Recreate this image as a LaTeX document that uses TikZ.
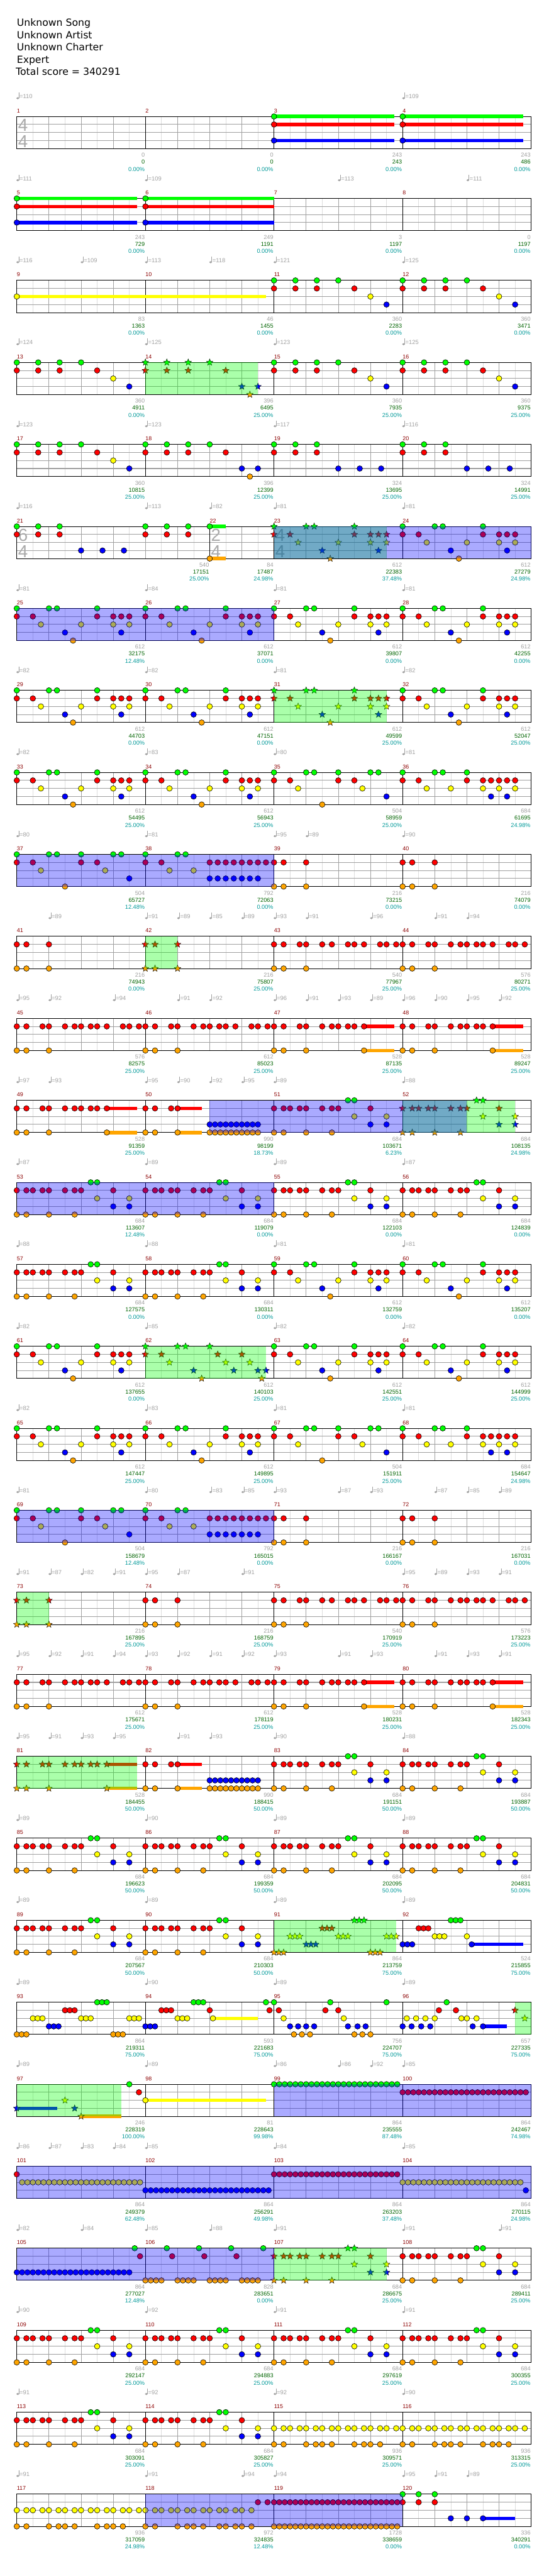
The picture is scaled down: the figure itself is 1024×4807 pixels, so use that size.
\documentclass[tikz,border=0pt]{standalone}
\usepackage{fontspec}
\setmainfont{Liberation Sans}
\newfontfamily\headfont{DejaVu Sans}
\usetikzlibrary{shapes.geometric}

\definecolor{ln0}{RGB}{0,255,0}
\definecolor{ln1}{RGB}{255,0,0}
\definecolor{ln2}{RGB}{255,255,0}
\definecolor{ln3}{RGB}{0,0,255}
\definecolor{ln4}{RGB}{255,165,0}
\definecolor{gridlight}{RGB}{221,221,221}
\definecolor{gridmid}{RGB}{160,160,160}
\definecolor{mnumred}{RGB}{140,0,0}
\definecolor{basegray}{RGB}{160,160,160}
\definecolor{scoregreen}{RGB}{0,100,0}
\definecolor{pctteal}{RGB}{0,153,153}
\definecolor{sigray}{RGB}{170,170,170}

% top-left corner of a measure
\newcommand{\mpos}[1]{%
  \pgfmathtruncatemacro{\mrow}{(#1-1)/4}%
  \pgfmathsetmacro{\my}{217.3+153*\mrow}%
  \pgfmathsetmacro{\mx}{31.3+240*(#1-1-4*\mrow)}%
  \ifnum#1=22 \def\mx{391.3}\fi}
\newcommand{\inm}[2]{\mpos{#1}\begin{scope}[shift={(\mx,\my)}]#2\end{scope}}

% notes: lane, list of beats
\newcommand{\nts}[2]{\foreach \bt in {#2}{\filldraw[note,fill=ln#1] ({60*\bt},{15*#1}) circle[radius=5.2pt];}}
\newcommand{\sts}[2]{\foreach \bt in {#2}{\node[starnote,fill=ln#1] at ({60*\bt},{15*#1}) {};}}
\newcommand{\sus}[3]{\draw[sustain,ln#1] ({60*#2},{15*#1}) -- ({60*#3},{15*#1});}
\newcommand{\run}[3]{\foreach \kk in {#2,...,#3}{\filldraw[note,fill=ln#1] ({10*\kk},{15*#1}) circle[radius=5.2pt];}}
\newcommand{\nx}{\nts}

\newcommand{\zone}[5]{\mpos{#2}\pgfmathsetmacro{\xa}{\mx+60*#3}\let\ya\my
  \mpos{#4}\pgfmathsetmacro{\xb}{\mx+60*#5}\fill[#1] (\xa,\ya) rectangle (\xb,{\ya+60});}

% note patterns
\newcommand{\patLong}[1]{\sus{0}{0}{#1}\sus{1}{0}{#1}\sus{3}{0}{#1}\nx{0}{0}\nx{1}{0}\nx{3}{0}}
\newcommand{\patA}{\nx{0}{0,0.667,1.333,2}\nx{1}{0,0.667,1.333,2.5}\nx{2}{3}\nx{3}{3.5}}
\newcommand{\patAA}{\nx{0}{0,0.667,1.333,2}\nx{1}{0,0.667,1.333,2.5}\nx{3}{3,3.5}\nx{4}{3.25}}
\newcommand{\patC}{\nx{0}{0,0.667,1.333}\nx{1}{0,0.667,1.333}\nx{3}{2,2.667,3.333}}
\newcommand{\patD}{\nx{0}{0,1,1.25,2.5}\nx{1}{0,0.5,2.5,3,3.25,3.5}\nx{2}{0.75,2,3,3.5}\nx{3}{1.5,3.25}\nx{4}{1.75}}
\newcommand{\patE}{\nx{0}{0,1,1.25,2,3,3.25}\nx{1}{0,0.5,2,2.5}\nx{2}{0.75,2.75}\nx{3}{3.5}\nx{4}{1.5}}
\newcommand{\patF}{\nx{0}{0,1,1.25,2}\nx{1}{0,0.5,2,2.5,2.75,3,3.25,3.5}\nx{2}{0.75,1.5,2.5,3,3.5}\nx{3}{2.75,3.25}}
\newcommand{\patH}{\nx{0}{0,1,1.25}\nx{1}{0,0.5,2,2.25,2.5,2.75,3,3.25,3.5,3.75}\nx{2}{0.75,1.5}\nx{3}{2,2.25,2.5,2.75,3,3.25,3.5}}
\newcommand{\patI}{\nx{1}{0,0.3,1}\nx{4}{0,0.3,1}}
\newcommand{\patRa}{\nx{1}{0,0.3,0.8,1,1.5,1.8,2.3,2.5,2.8,3.3,3.5,3.8}\nx{4}{0,0.3,1}}
\newcommand{\patRb}{\nx{1}{0,0.3,0.8,1,1.5,1.8,2,2.3,2.5,2.8,3.3,3.5,3.8}\nx{4}{0,0.3,1}}
\newcommand{\patRs}{\sus{1}{2.8}{3.75}\sus{4}{2.8}{3.75}\nx{1}{0,0.3,0.8,1,1.5,1.8,2,2.3,2.5,2.8}\nx{4}{0,0.3,1,2.8}}
\newcommand{\patJ}{\sus{1}{1}{1.75}\sus{4}{1}{1.75}\nx{1}{0,0.3,0.8,1}\nx{4}{0,0.3,1}\run{3}{12}{21}\run{4}{12}{21}}
\newcommand{\patG}{\nx{0}{2.3,2.5}\nx{1}{0,0.3,0.5,0.8,1,1.5,1.8,2,3}\nx{2}{2.5,3.5}\nx{3}{3,3.5}\nx{4}{0,0.3,1,1.8}}
\newcommand{\patK}{\nx{4}{0,0.15,0.3,3,3.15,3.3}\nx{2}{0.5,0.65,0.8,2,2.15,2.3,3.5,3.65,3.8}\nx{3}{1,1.15,1.3}\nx{1}{1.5,1.65,1.8}\nx{0}{2.5,2.65,2.8}}
\newcommand{\patY}{\nx{2}{0,0.3,0.5,0.8,1,1.3,1.5,1.8,2,2.3,2.5,2.8,3,3.3,3.5,3.8}\nx{4}{0,0.3,1,1.3,1.5,1.8,2.5,2.8,3,3.3}}

\begin{document}
\begin{tikzpicture}[
x=1pt, y=-1pt,
note/.style={draw=black, line width=0.7pt},
starnote/.style={star, star points=5, star point ratio=2.3, minimum size=13pt, inner sep=0pt, draw=black, line width=0.5pt},
sustain/.style={line width=6.5pt},
halfbeat/.style={draw=gridlight, line width=0.8pt},
beatline/.style={draw=gridmid, line width=0.8pt},
laneline/.style={draw=gridmid, line width=1.2pt},
staffedge/.style={draw=black, line width=1.1pt},
mnum/.style={anchor=base west, inner sep=0pt, text=mnumred, font=\fontsize{10.5}{12}\selectfont},
basept/.style={anchor=base east, inner sep=0pt, text=basegray, font=\fontsize{10.8}{12}\selectfont},
scorept/.style={anchor=base east, inner sep=0pt, text=scoregreen, font=\fontsize{10.8}{12}\selectfont},
pctpt/.style={anchor=base east, inner sep=0pt, text=pctteal, font=\fontsize{10.8}{12}\selectfont},
tempo/.style={fill=basegray, draw=basegray},
tempotext/.style={anchor=base west, inner sep=0pt, text=basegray, font=\fontsize{11}{12}\selectfont},
title/.style={anchor=base west, inner sep=0pt, font=\headfont\fontsize{18.4}{22}\selectfont},
tsig/.style={anchor=base west, inner sep=0pt, text=sigray, font=\fontsize{32.5}{34}\selectfont},
spz/.style={fill=ln0, fill opacity=0.333},
odz/.style={fill=ln3, fill opacity=0.333}
]
\fill[white] (0,0) rectangle (1024,4807);
\useasboundingbox (0,0) rectangle (1024,4807);

\node[title] (song) at (31.3,48.7) {Unknown Song};
\node[title] (artist) at (31.3,71.7) {Unknown Artist};
\node[title] (charter) at (31.3,94.7) {Unknown Charter};
\node[title] (level) at (31.3,117.7) {Expert};
\node[title] (total) at (29.4,140.7) {Total score = 340291};

% staves, measure numbers and scores
\foreach \nm/\va/\vb/\vc in {
1/0/0/0.00, 2/0/0/0.00, 3/243/243/0.00, 4/243/486/0.00,
5/243/729/0.00, 6/249/1191/0.00, 7/3/1197/0.00, 8/0/1197/0.00,
9/83/1363/0.00, 10/46/1455/0.00, 11/360/2283/0.00, 12/360/3471/0.00,
13/360/4911/0.00, 14/396/6495/25.00, 15/360/7935/25.00, 16/360/9375/25.00,
17/360/10815/25.00, 18/396/12399/25.00, 19/324/13695/25.00, 20/324/14991/25.00,
21/540/17151/25.00, 22/84/17487/24.98, 23/612/22383/37.48, 24/612/27279/24.98,
25/612/32175/12.48, 26/612/37071/0.00, 27/612/39807/0.00, 28/612/42255/0.00,
29/612/44703/0.00, 30/612/47151/0.00, 31/612/49599/25.00, 32/612/52047/25.00,
33/612/54495/25.00, 34/612/56943/25.00, 35/504/58959/25.00, 36/684/61695/24.98,
37/504/65727/12.48, 38/792/72063/0.00, 39/216/73215/0.00, 40/216/74079/0.00,
41/216/74943/0.00, 42/216/75807/25.00, 43/540/77967/25.00, 44/576/80271/25.00,
45/576/82575/25.00, 46/612/85023/25.00, 47/528/87135/25.00, 48/528/89247/25.00,
49/528/91359/25.00, 50/990/98199/18.73, 51/684/103671/6.23, 52/684/108135/24.98,
53/684/113607/12.48, 54/684/119079/0.00, 55/684/122103/0.00, 56/684/124839/0.00,
57/684/127575/0.00, 58/684/130311/0.00, 59/612/132759/0.00, 60/612/135207/0.00,
61/612/137655/0.00, 62/612/140103/25.00, 63/612/142551/25.00, 64/612/144999/25.00,
65/612/147447/25.00, 66/612/149895/25.00, 67/504/151911/25.00, 68/684/154647/24.98,
69/504/158679/12.48, 70/792/165015/0.00, 71/216/166167/0.00, 72/216/167031/0.00,
73/216/167895/25.00, 74/216/168759/25.00, 75/540/170919/25.00, 76/576/173223/25.00,
77/612/175671/25.00, 78/612/178119/25.00, 79/528/180231/25.00, 80/528/182343/25.00,
81/528/184455/50.00, 82/990/188415/50.00, 83/684/191151/50.00, 84/684/193887/50.00,
85/684/196623/50.00, 86/684/199359/50.00, 87/684/202095/50.00, 88/684/204831/50.00,
89/684/207567/50.00, 90/684/210303/50.00, 91/864/213759/75.00, 92/524/215855/75.00,
93/864/219311/75.00, 94/593/221683/75.00, 95/756/224707/75.00, 96/657/227335/75.00,
97/246/228319/100.00, 98/81/228643/99.98, 99/864/235555/87.48, 100/864/242467/74.98,
101/864/249379/62.48, 102/864/256291/49.98, 103/864/263203/37.48, 104/864/270115/24.98,
105/864/277027/12.48, 106/828/283651/0.00, 107/684/286675/25.00, 108/684/289411/25.00,
109/684/292147/25.00, 110/684/294883/25.00, 111/684/297619/25.00, 112/684/300355/25.00,
113/684/303091/25.00, 114/684/305827/25.00, 115/936/309571/25.00, 116/936/313315/25.00,
117/936/317059/24.98, 118/972/324835/12.48, 119/1728/338659/0.00, 120/336/340291/0.00}{
  \mpos{\nm}
  \def\nb{4}\ifnum\nm=21 \def\nb{6}\fi\ifnum\nm=22 \def\nb{2}\fi
  \begin{scope}[shift={(\mx,\my)}]
    \foreach \hb in {1,...,\nb}{
      \draw[halfbeat] ({60*\hb-30},0) -- ++(0,60);
      \draw[beatline] ({60*\hb},0) -- ++(0,60);
    }
    \foreach \lane in {1,2,3}{\draw[laneline] (0,{15*\lane}) -- ({60*\nb},{15*\lane});}
    \draw[staffedge] (0,0) rectangle ({60*\nb},60);
    \node[mnum] (m\nm) at (0,-7) {\nm};
    \node[basept] (b\nm) at ({60*\nb-1},75.7) {\va};
    \node[scorept] (s\nm) at ({60*\nb-1},88.7) {\vb};
    \node[pctpt] (p\nm) at ({60*\nb-1},102) {\vc\%};
  \end{scope}
}

% time signatures
\node[tsig] (sig1a) at (33.8,245) {4};
\node[tsig] (sig1b) at (33.8,275) {4};
\node[tsig] (sig21a) at (33.8,1010) {6};
\node[tsig] (sig21b) at (33.8,1040) {4};
\node[tsig] (sig22a) at (393.8,1010) {2};
\node[tsig] (sig22b) at (393.8,1040) {4};
\node[tsig] (sig23a) at (513.8,1010) {4};
\node[tsig] (sig23b) at (513.8,1040) {4};

% tempo marks
\foreach \m/\bt/\tp in {1/0/110, 4/0/109, 5/0/111, 6/0/109, 7/2/113, 8/2/111,
9/0/116, 9/2/109, 10/0/113, 10/2/118, 11/0/121, 12/0/125,
13/0/124, 14/0/125, 15/0/123, 16/0/125, 17/0/123, 18/0/123, 19/0/117, 20/0/116,
21/0/116, 21/4/113, 22/0/82, 23/0/81, 24/0/81, 25/0/81, 26/0/84, 27/0/81, 28/0/81,
29/0/82, 30/0/82, 31/0/81, 32/0/82, 33/0/82, 34/0/83, 35/0/80, 36/0/81,
37/0/80, 38/0/81, 39/0/95, 39/1/89, 40/0/90,
41/1/89, 42/0/91, 42/1/89, 42/2/85, 42/3/89, 43/0/93, 43/1/91, 43/3/96, 44/1/91, 44/2/94,
45/0/95, 45/1/92, 45/3/94, 46/1/91, 46/2/92, 47/0/96, 47/1/91, 47/2/93, 47/3/89,
48/0/96, 48/1/90, 48/2/95, 48/3/92,
49/0/97, 49/1/93, 50/0/95, 50/1/90, 50/2/92, 50/3/95, 51/0/89, 52/0/88,
53/0/87, 54/0/89, 55/0/89, 56/0/87, 57/0/88, 58/0/88, 59/0/81, 60/0/81,
61/0/82, 62/0/85, 63/0/82, 64/0/82, 65/0/82, 66/0/83, 67/0/81, 68/0/81,
69/0/81, 70/0/80, 70/2/83, 70/3/85, 71/0/93, 71/2/87, 71/3/93, 72/1/87, 72/2/85, 72/3/89,
73/0/91, 73/1/87, 73/2/82, 73/3/91, 74/0/95, 74/1/87, 74/3/91, 76/0/95, 76/1/89, 76/2/93, 76/3/91,
77/0/95, 77/1/92, 77/2/91, 77/3/94, 78/0/93, 78/1/92, 78/2/91, 78/3/92,
79/0/93, 79/2/91, 79/3/93, 80/1/91, 80/2/93, 80/3/91,
81/0/95, 81/1/91, 81/2/93, 81/3/95, 82/1/91, 82/2/93, 83/0/90, 84/0/88,
85/0/89, 86/0/90, 87/0/89, 88/0/89, 89/0/89, 90/0/89, 91/0/89, 92/0/89,
93/0/89, 94/0/90, 95/0/89, 96/0/89, 97/0/89, 98/0/89, 99/0/86, 99/2/86, 99/3/92, 100/0/85,
101/0/86, 101/1/87, 101/2/83, 101/3/84, 102/0/85, 103/0/84, 104/0/85,
105/0/82, 105/2/84, 106/0/85, 106/2/88, 107/0/91, 108/0/91, 108/3/91,
109/0/90, 110/0/92, 111/0/91, 112/0/91, 113/0/91, 114/0/92, 115/0/92, 116/0/90,
117/0/91, 118/0/91, 118/3/94, 119/0/94, 120/0/95, 120/1/91, 120/2/89}{
  \inm{\m}{
    \fill[tempo] ({60*\bt+1.8},-34) ellipse[x radius=2.3pt, y radius=1.7pt];
    \draw[tempo, line width=0.8pt] ({60*\bt+3.9},-34) -- ({60*\bt+3.9},-44.5);
    \node[tempotext] (t\m-\bt) at ({60*\bt+5},-33.3) {=\tp};
  }
}

% notes
\inm{3}{\patLong{3.75}}
\inm{4}{\patLong{3.75}}
\inm{5}{\patLong{3.75}}
\inm{6}{\patLong{4}}
\inm{9}{\sus{2}{0}{7.75}\nx{2}{0}}
\foreach \m in {11,12,13,15,16,17}{\inm{\m}{\patA}}
\inm{14}{\let\nx\sts\patAA}
\inm{18}{\patAA}
\foreach \m in {19,20}{\inm{\m}{\patC}}
\inm{21}{\nx{0}{0,0.667,1.333,4,4.667,5.333}\nx{1}{0,0.667,1.333,4,4.667,5.333}\nx{3}{2,2.667,3.333}}
\inm{22}{\sus{0}{0}{0.5}\sus{4}{0}{0.5}\nx{0}{0}\nx{4}{0}}
\foreach \m in {23,31}{\inm{\m}{\let\nx\sts\patD}}
\foreach \m in {24,...,30,32,33,34,59,60,61,63,64,65,66}{\inm{\m}{\patD}}
\foreach \m in {35,37,67,69}{\inm{\m}{\patE}}
\foreach \m in {36,68}{\inm{\m}{\patF}}
\foreach \m in {38,70}{\inm{\m}{\patH}}
\foreach \m in {39,40,41,71,72,74}{\inm{\m}{\patI}}
\foreach \m in {42,73}{\inm{\m}{\let\nx\sts\patI}}
\foreach \m in {43,75}{\inm{\m}{\patRa}}
\foreach \m in {44,45,46,76,77,78}{\inm{\m}{\patRb}}
\foreach \m in {47,48,49,79,80}{\inm{\m}{\patRs}}
\inm{81}{\let\nx\sts\patRs}
\foreach \m in {50,82}{\inm{\m}{\patJ}}
\foreach \m in {51,53,54,55,56,57,58,83,84,...,90,108,109,...,114}{\inm{\m}{\patG}}
\foreach \m in {52,107}{\inm{\m}{\let\nx\sts\patG}}
\inm{62}{\let\nx\sts\nx{0}{0,1,1.25,2}\nx{1}{0,0.5,2.25,3}\nx{2}{0.75,2.5,3.25}\nx{3}{1.5,2.75,3.5,3.75}\nx{4}{1.75,3.62}}
\inm{91}{\let\nx\sts\patK}
\inm{92}{\nx{3}{0,0.15,0.3}\nx{1}{0.5,0.65,0.8}\nx{2}{1,1.15,1.3,2}\nx{0}{1.5,1.65,1.8}\sus{3}{2.15}{3.75}\nx{3}{2.15}}
\inm{93}{\patK}
\inm{94}{\nx{3}{0,0.15,0.3}\nx{1}{0.5,0.65,0.8,2,3.86}\nx{2}{1,1.15,1.3}\nx{0}{1.5,1.65,1.8,3.75}\sus{2}{2.1}{3.5}\nx{2}{2.1}}
\inm{95}{\nx{0}{0,1.75,3.5}\nx{1}{0.15,1.6,2}\nx{2}{0.3,2.17}\nx{3}{0.5,0.75,1,1.25,2.3,2.6,2.85}\nx{4}{0.62,0.87,1.12,2.5,2.75,3}}
\inm{96}{\nx{3}{0,0.28,0.58,0.86,2.18}\nx{2}{0.13,0.42,0.71,1,1.83,2,2.3}\nx{1}{1.13,1.66}\nx{0}{1.37}\sus{3}{2.5}{3.25}\nx{3}{2.5}\sts{1}{3.5}\sts{2}{3.8}}
\inm{97}{\sus{3}{0}{1.25}\sts{3}{0}\sts{2}{1.5}\sts{3}{1.8}\sus{4}{2}{3.25}\sts{4}{2}\nx{0}{3.5}\nx{1}{3.8}}
\inm{98}{\sus{2}{0}{3.75}\nx{2}{0}}
\inm{99}{\run{0}{0}{23}}
\inm{100}{\run{1}{0}{23}}
\inm{101}{\nx{1}{0}\run{2}{1}{23}}
\inm{102}{\run{3}{0}{23}}
\inm{103}{\run{1}{0}{23}}
\inm{104}{\run{2}{0}{22}\nx{3}{3.833}}
\inm{105}{\run{3}{0}{21}\nx{0}{3.667}\nx{1}{3.833}}
\inm{106}{\nx{0}{0.667,1.667,2.667,3.667}\nx{1}{0.833,1.833,2.833}\run{4}{0}{3}\run{4}{6}{9}\run{4}{12}{15}\run{4}{18}{21}}
\foreach \m in {115,116,117}{\inm{\m}{\patY}}
\inm{118}{\nx{2}{0,0.3,0.5,0.8,1,1.3,1.5,1.8,2,2.3,2.5,2.8,3,3.3}\nx{1}{3.5,3.8}\nx{4}{0,0.3,1,1.3,1.5,1.8,2.3,2.5,2.8,3,3.3}}
\inm{119}{\run{1}{0}{23}\run{4}{0}{23}}
\inm{120}{\nx{0}{0,0.5,1}\nx{1}{0,0.5,1}\sus{3}{2.5}{3.5}\nx{3}{1.5,2,2.5}}

% star power phrases
\zone{spz}{14}{0}{14}{3.5}
\zone{spz}{23}{0}{23}{3.5}
\zone{spz}{31}{0}{31}{3.5}
\zone{spz}{42}{0}{42}{1}
\zone{spz}{52}{0}{52}{3.5}
\zone{spz}{62}{0}{62}{3.75}
\zone{spz}{73}{0}{73}{1}
\zone{spz}{81}{0}{81}{3.75}
\zone{spz}{91}{0}{91}{3.8}
\zone{spz}{96}{3.5}{96}{4}
\zone{spz}{97}{0}{97}{3.25}
\zone{spz}{107}{0}{107}{3.5}
% activations
\zone{odz}{23}{0}{24}{4}
\zone{odz}{25}{0}{26}{4}
\zone{odz}{37}{0}{38}{4}
\zone{odz}{50}{2}{51}{4}
\zone{odz}{52}{0}{52}{2}
\zone{odz}{53}{0}{54}{4}
\zone{odz}{69}{0}{70}{4}
\zone{odz}{99}{0}{100}{4}
\zone{odz}{101}{0}{104}{4}
\zone{odz}{105}{0}{106}{4}
\zone{odz}{118}{0}{119}{4}
\end{tikzpicture}
\end{document}
